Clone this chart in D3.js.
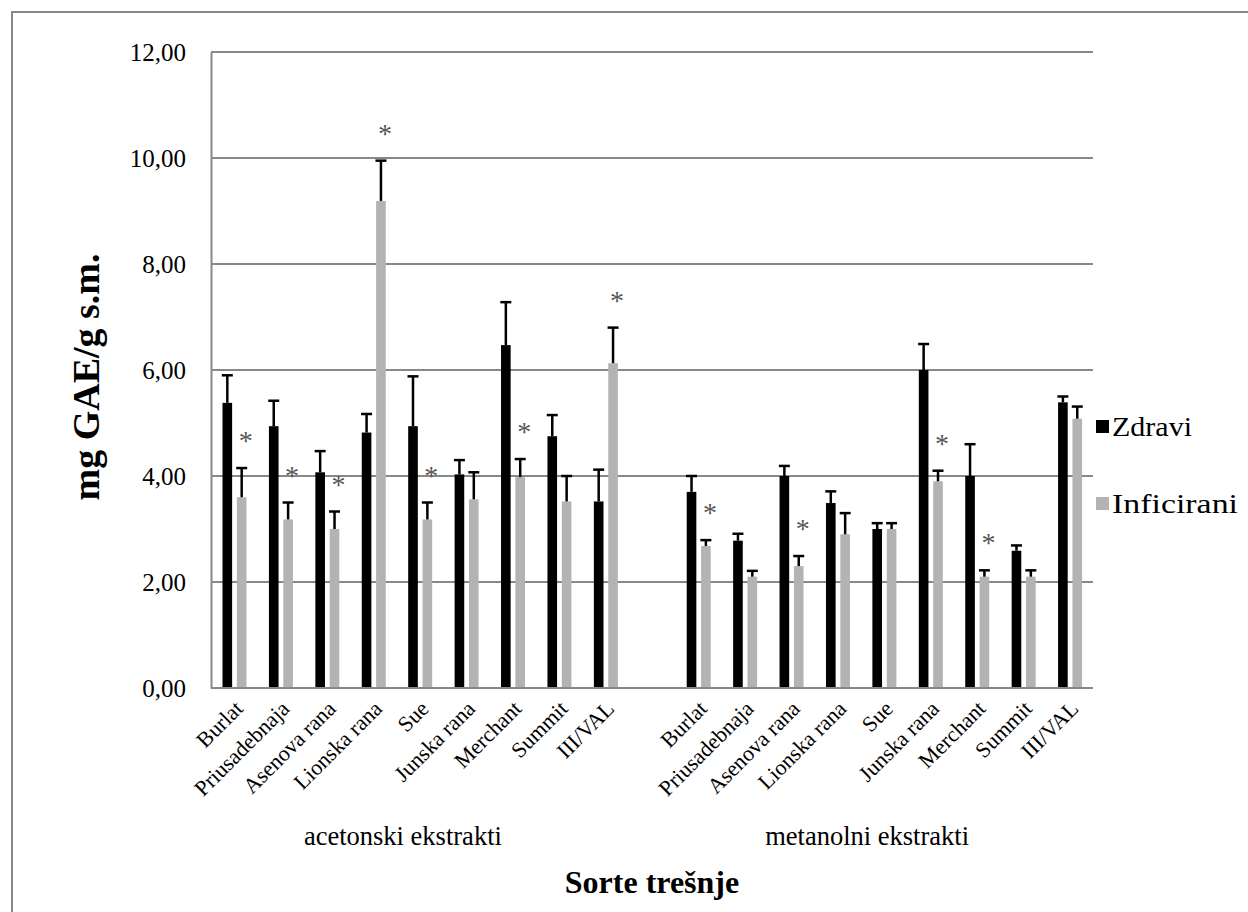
<!DOCTYPE html>
<html>
<head>
<meta charset="utf-8">
<script src="https://cdn.jsdelivr.net/npm/d3@7/dist/d3.min.js"></script>
<style>
  html, body { margin: 0; padding: 0; background: #fff; }
  svg { display: block; }
  text { font-family: "Liberation Serif", "Times New Roman", serif; fill: #000; }
</style>
</head>
<body>
<svg id="chart" width="1248" height="912"></svg>
<script>
// Cherry varieties, two extraction solvents
const groups = ["acetonski ekstrakti", "metanolni ekstrakti"];
const varieties = ["Burlat", "Priusadebnaja", "Asenova rana", "Lionska rana", "Sue",
                   "Junska rana", "Merchant", "Summit", "III/VAL"];
const seriesNames = ["Zdravi", "Inficirani"];

// mean values (mg GAE/g s.m.)
const zdraviAceton      = [5.38, 4.94, 4.07, 4.82, 4.94, 4.03, 6.47, 4.75, 3.52];
const inficiraniAceton  = [3.60, 3.18, 3.00, 9.19, 3.18, 3.56, 3.98, 3.52, 6.13];
const zdraviMetanol     = [3.70, 2.78, 4.00, 3.49, 3.00, 6.00, 4.00, 2.59, 5.39];
const inficiraniMetanol = [2.68, 2.10, 2.30, 2.90, 3.00, 3.90, 2.10, 2.10, 5.08];

// standard deviations (upper error bars)
const zdraviAcetonErr      = [0.52, 0.48, 0.40, 0.35, 0.94, 0.27, 0.81, 0.40, 0.60];
const inficiraniAcetonErr  = [0.55, 0.32, 0.33, 0.76, 0.32, 0.51, 0.34, 0.48, 0.67];
const zdraviMetanolErr     = [0.30, 0.13, 0.19, 0.22, 0.11, 0.49, 0.60, 0.10, 0.11];
const inficiraniMetanolErr = [0.11, 0.11, 0.19, 0.40, 0.11, 0.20, 0.12, 0.12, 0.23];

// significant difference marks on infected samples
const sigAceton  = [1, 1, 1, 1, 1, 0, 1, 0, 1];
const sigMetanol = [1, 0, 1, 0, 0, 1, 1, 0, 0];

const yTicks = [0, 2, 4, 6, 8, 10, 12];

// ---- build rows ----
const slots = [];
const rows = [];
function addGroup(g, zd, inf, zdE, infE, sig) {
  varieties.forEach((v, i) => {
    const key = g + "|" + v;
    slots.push(key);
    rows.push({ key, group: g, variety: v, series: "Zdravi", value: zd[i], err: zdE[i], sig: 0 });
    rows.push({ key, group: g, variety: v, series: "Inficirani", value: inf[i], err: infE[i], sig: sig[i] });
  });
}
addGroup(groups[0], zdraviAceton, inficiraniAceton, zdraviAcetonErr, inficiraniAcetonErr, sigAceton);
slots.push("gap");
addGroup(groups[1], zdraviMetanol, inficiraniMetanol, zdraviMetanolErr, inficiraniMetanolErr, sigMetanol);

// ---- layout ----
const plot = { left: 211, right: 1093, top: 52, bottom: 688 };
const gridColor = "#888888";
const colors = { "Zdravi": "#000000", "Inficirani": "#b3b3b3" };

const svg = d3.select("#chart");

// outer frame
svg.append("rect")
  .attr("x", 12).attr("y", 12)
  .attr("width", 1260).attr("height", 920)
  .attr("fill", "none").attr("stroke", gridColor).attr("stroke-width", 2);

const x = d3.scaleBand().domain(slots).range([plot.left, plot.right]).padding(0);
const xs = d3.scaleBand().domain(seriesNames).range([11.5, 35.5]).paddingInner(0.33);
const y = d3.scaleLinear().domain([0, 12]).range([plot.bottom, plot.top]);

// horizontal gridlines
svg.append("g")
  .selectAll("line")
  .data(yTicks.filter(t => t > 0))
  .join("line")
  .attr("x1", plot.left).attr("x2", plot.right)
  .attr("y1", d => y(d)).attr("y2", d => y(d))
  .attr("stroke", gridColor).attr("stroke-width", 2);

// y axis
const fmt = d => d.toFixed(2).replace(".", ",");
const yAxis = svg.append("g")
  .attr("transform", `translate(${plot.left},0)`)
  .call(d3.axisLeft(y).tickValues(yTicks).tickFormat(fmt).tickSize(0).tickPadding(25));
yAxis.select(".domain").attr("stroke", gridColor).attr("stroke-width", 2);
yAxis.selectAll("text")
  .attr("font-size", 25)
  .attr("font-family", "'Liberation Serif', 'Times New Roman', serif")
  .attr("fill", "#000");

// bars
svg.append("g")
  .selectAll("rect")
  .data(rows)
  .join("rect")
  .attr("x", d => x(d.key) + xs(d.series))
  .attr("width", xs.bandwidth())
  .attr("y", d => y(d.value))
  .attr("height", d => y(0) - y(d.value))
  .attr("fill", d => colors[d.series]);

// error bars (upper half only)
const capW = 11;
const eb = svg.append("g").attr("stroke", "#000").attr("stroke-width", 2.5);
eb.selectAll("line.v")
  .data(rows)
  .join("line")
  .attr("class", "v")
  .attr("x1", d => x(d.key) + xs(d.series) + xs.bandwidth() / 2)
  .attr("x2", d => x(d.key) + xs(d.series) + xs.bandwidth() / 2)
  .attr("y1", d => y(d.value))
  .attr("y2", d => y(d.value + d.err));
eb.selectAll("line.c")
  .data(rows)
  .join("line")
  .attr("class", "c")
  .attr("x1", d => x(d.key) + xs(d.series) + xs.bandwidth() / 2 - capW / 2)
  .attr("x2", d => x(d.key) + xs(d.series) + xs.bandwidth() / 2 + capW / 2)
  .attr("y1", d => y(d.value + d.err))
  .attr("y2", d => y(d.value + d.err));

// significance asterisks
svg.append("g")
  .selectAll("text")
  .data(rows.filter(d => d.sig))
  .join("text")
  .attr("x", d => x(d.key) + xs(d.series) + xs.bandwidth() / 2 + 4)
  .attr("y", d => y(d.value + d.err) - 31 + 13)
  .attr("text-anchor", "middle")
  .attr("font-size", 28)
  .style("fill", "#555")
  .text("*");

// x axis baseline
svg.append("line")
  .attr("x1", plot.left).attr("x2", plot.right)
  .attr("y1", plot.bottom).attr("y2", plot.bottom)
  .attr("stroke", gridColor).attr("stroke-width", 2);

// rotated variety labels
svg.append("g")
  .selectAll("text")
  .data(slots.filter(s => s !== "gap"))
  .join("text")
  .attr("transform", s => `translate(${x(s) + x.bandwidth() / 2 + 10},${plot.bottom + 22}) rotate(-45)`)
  .attr("text-anchor", "end")
  .attr("font-size", 22)
  .text(s => s.split("|")[1]);

// group labels
svg.append("g")
  .selectAll("text")
  .data(groups)
  .join("text")
  .attr("x", g => {
    const keys = slots.filter(s => s.startsWith(g));
    return (x(keys[0]) + x(keys[keys.length - 1]) + x.bandwidth()) / 2 - 17;
  })
  .attr("y", 845)
  .attr("text-anchor", "middle")
  .attr("font-size", 26.5)
  .text(g => g);

// axis titles
svg.append("text")
  .attr("x", (plot.left + plot.right) / 2)
  .attr("y", 893)
  .attr("text-anchor", "middle")
  .attr("font-size", 32)
  .attr("font-weight", "bold")
  .text("Sorte trešnje");

svg.append("text")
  .attr("transform", `translate(99,${(plot.top + plot.bottom) / 2 + 7}) rotate(-90)`)
  .attr("text-anchor", "middle")
  .attr("font-size", 38)
  .attr("font-weight", "bold")
  .text("mg GAE/g s.m.");

// legend
const legend = svg.append("g")
  .selectAll("g")
  .data(seriesNames)
  .join("g")
  .attr("transform", (d, i) => `translate(1096,${420 + i * 77})`);
legend.append("rect")
  .attr("width", 13).attr("height", 13)
  .attr("fill", d => colors[d]);
legend.append("text")
  .attr("x", 16).attr("y", 16)
  .attr("font-size", 27)
  .attr("textLength", d => d === "Zdravi" ? 80 : 126)
  .attr("lengthAdjust", "spacingAndGlyphs")
  .text(d => d);
</script>
</body>
</html>
